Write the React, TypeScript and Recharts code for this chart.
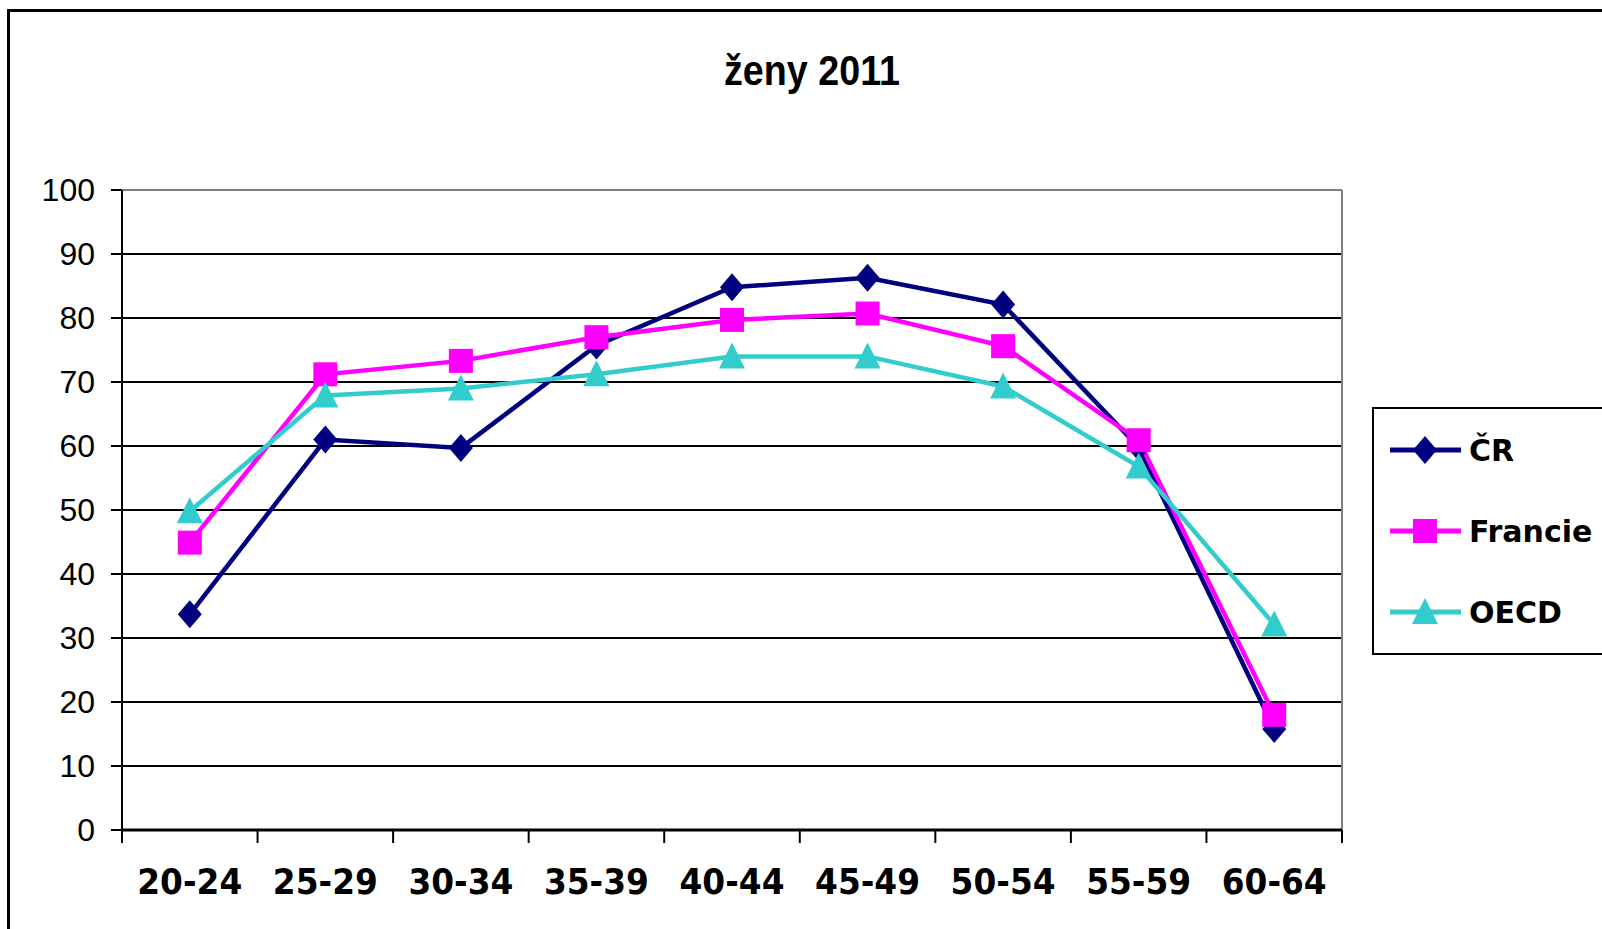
import React from "react";
import { LineChart, Line, XAxis, YAxis, CartesianGrid, Legend } from "recharts";

const categories = ["20-24", "25-29", "30-34", "35-39", "40-44", "45-49", "50-54", "55-59", "60-64"];
const crValues = [33.7, 61.0, 59.7, 75.7, 84.8, 86.3, 82.1, 59.8, 15.8];
const francieValues = [44.9, 71.2, 73.3, 77.0, 79.7, 80.7, 75.6, 60.9, 18.0];
const oecdValues = [49.8, 67.9, 69.0, 71.2, 74.0, 74.0, 69.3, 56.8, 32.1];
const yTicks = [0, 10, 20, 30, 40, 50, 60, 70, 80, 90, 100];

const series = [
  { key: "cr", name: "ČR", color: "#000080", marker: "diamond" },
  { key: "francie", name: "Francie", color: "#FF00FF", marker: "square" },
  { key: "oecd", name: "OECD", color: "#33CCCC", marker: "triangle" },
];

const data = categories.map((age, i) => ({
  age,
  cr: crValues[i],
  francie: francieValues[i],
  oecd: oecdValues[i],
}));

const CHART_W = 1602;
const CHART_H = 929;
const Y_AXIS_W = 80;
const X_AXIS_H = 60;
const margin = { top: 190, right: 260, bottom: 99 - X_AXIS_H, left: 122 - Y_AXIS_W };
const PLOT_W = CHART_W - margin.left - margin.right - Y_AXIS_W;
const BAND = PLOT_W / categories.length;

const Marker = ({ kind, cx, cy, color }: { kind: string; cx: number; cy: number; color: string }) => {
  if (kind === "diamond")
    return <path d={`M${cx},${cy - 14} L${cx + 12},${cy} L${cx},${cy + 14} L${cx - 12},${cy} Z`} fill={color} />;
  if (kind === "square") return <rect x={cx - 12} y={cy - 12} width={24} height={24} fill={color} />;
  return <path d={`M${cx},${cy - 14} L${cx + 13},${cy + 12} L${cx - 13},${cy + 12} Z`} fill={color} />;
};

const XTick = (props: any) => {
  const { x, y, payload, index } = props;
  const axisY = y - 13;
  const left = x - BAND / 2;
  return (
    <g>
      <line x1={left} x2={left} y1={axisY} y2={axisY + 13} stroke="#000" strokeWidth={2} />
      {index === categories.length - 1 && (
        <line x1={x + BAND / 2} x2={x + BAND / 2} y1={axisY} y2={axisY + 13} stroke="#000" strokeWidth={2} />
      )}
      <text
        x={x}
        y={axisY + 64}
        textAnchor="middle"
        fontFamily="DejaVu Sans"
        fontWeight="bold"
        fontSize={35}
        textLength={105}
        lengthAdjust="spacingAndGlyphs"
        fill="#000"
      >
        {payload.value}
      </text>
    </g>
  );
};

const renderLegend = (props: any) => {
  const payload = props.payload ?? [];
  return (
    <svg width={262} height={250} style={{ display: "block" }}>
      <rect x={1} y={1} width={300} height={246} fill="#fff" stroke="#000" strokeWidth={2} />
      {series.map((s, i) => {
        const entry = payload.find((p: any) => p.dataKey === s.key);
        const cy = 43 + i * 81;
        return (
          <g key={s.key}>
            <line x1={18} x2={89} y1={cy} y2={cy} stroke={s.color} strokeWidth={5} />
            <Marker kind={s.marker} cx={53} cy={cy} color={s.color} />
            <text x={97} y={cy} dy="0.36em" fontFamily="DejaVu Sans" fontWeight="bold" fontSize={30} fill="#000">
              {entry ? entry.value : s.name}
            </text>
          </g>
        );
      })}
    </svg>
  );
};

export default function App() {
  return (
    <div style={{ position: "fixed", left: 0, top: 0, width: CHART_W, height: CHART_H, overflow: "hidden", background: "#fff" }}>
      <div
        style={{ position: "absolute", left: 7, top: 9, width: 1700, height: 1000, border: "3px solid #000", boxSizing: "border-box" }}
      />
      <div style={{ position: "absolute", left: 0, top: 0 }}>
        <LineChart width={CHART_W} height={CHART_H} data={data} margin={margin}>
          <CartesianGrid vertical={false} stroke="#000" strokeWidth={2} />
          <CartesianGrid
            horizontalCoordinatesGenerator={({ offset }: any) => [offset.top]}
            verticalCoordinatesGenerator={({ offset }: any) => [offset.left + offset.width]}
            stroke="#808080"
            strokeWidth={2}
          />
          <XAxis
            dataKey="age"
            height={X_AXIS_H}
            padding={{ left: BAND / 2, right: BAND / 2 }}
            interval={0}
            axisLine={{ stroke: "#000", strokeWidth: 3 }}
            tickLine={false}
            tickSize={13}
            tickMargin={0}
            tick={<XTick />}
          />
          <YAxis
            domain={[0, 100]}
            ticks={yTicks}
            interval={0}
            width={Y_AXIS_W}
            axisLine={{ stroke: "#000", strokeWidth: 2 }}
            tickLine={{ stroke: "#000", strokeWidth: 2 }}
            tickSize={11}
            tickMargin={16}
            tick={{ fill: "#000", fontSize: 32, fontFamily: "Liberation Sans, Arial, sans-serif" }}
          />
          <Legend
            layout="horizontal"
            align="center"
            verticalAlign="middle"
            content={renderLegend}
            wrapperStyle={{ left: 1372, top: 407, width: 262, height: 250 }}
          />
          {series.map((s) => (
            <Line
              key={s.key}
              dataKey={s.key}
              name={s.name}
              type="linear"
              stroke={s.color}
              strokeWidth={4.5}
              isAnimationActive={false}
              dot={(p: any) => <Marker key={`${s.key}-${p.index}`} kind={s.marker} cx={p.cx} cy={p.cy} color={s.color} />}
              activeDot={false}
            />
          ))}
        </LineChart>
      </div>
      <svg width={CHART_W} height={120} style={{ position: "absolute", left: 0, top: 0, pointerEvents: "none" }}>
        <text
          x={812}
          y={85}
          textAnchor="middle"
          fontFamily="Liberation Sans Narrow, Liberation Sans, Arial, sans-serif"
          fontWeight="bold"
          fontSize={43}
          textLength={176}
          lengthAdjust="spacingAndGlyphs"
          fill="#000"
        >
          ženy 2011
        </text>
      </svg>
    </div>
  );
}
